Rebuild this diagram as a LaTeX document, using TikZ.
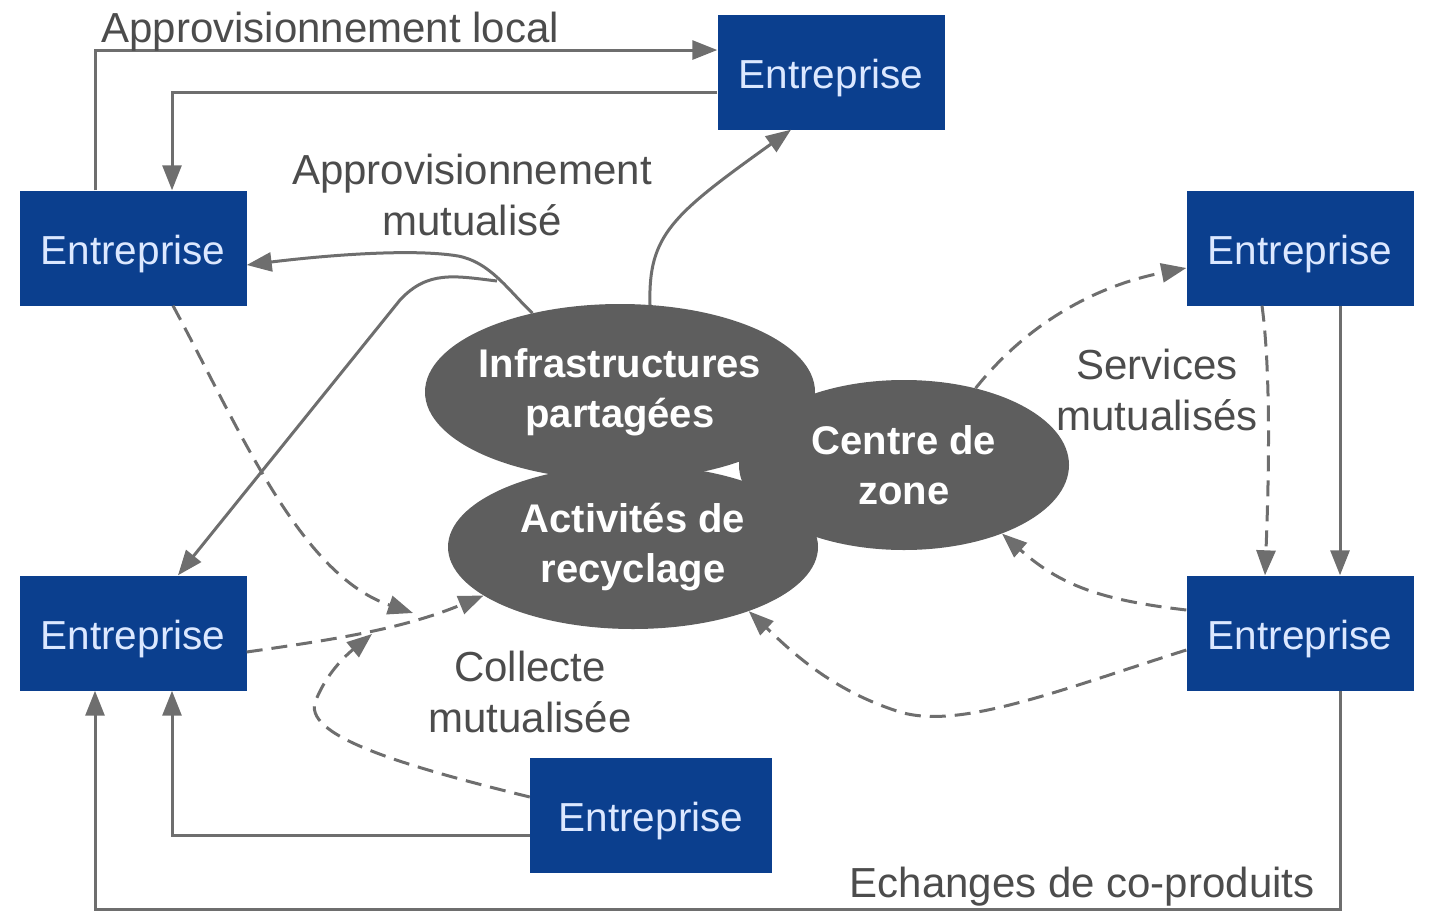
\documentclass[tikz,border=0pt]{standalone}
\usepackage{fontspec}
\setmainfont{Liberation Sans}
\usetikzlibrary{arrows.meta,shapes.geometric}
\definecolor{boxblue}{HTML}{0B3F8E}
\definecolor{boxtext}{HTML}{DCE8FF}
\definecolor{blobgrey}{HTML}{5E5E5E}
\definecolor{linegrey}{HTML}{6E6E6E}
\definecolor{labelgrey}{HTML}{4C4C4C}
\tikzset{
  firm/.style={fill=boxblue, text=boxtext, minimum width=227pt, minimum height=115pt,
    inner sep=0pt, text height=33pt, text depth=0pt, font=\fontsize{40.5}{48}\selectfont},
  pole/.style={ellipse, fill=blobgrey, text=white, inner ysep=0pt, inner xsep=-25pt, align=center,
    font=\bfseries\fontsize{40}{50}\selectfont},
  flow/.style={draw=linegrey, line width=3pt, -{Triangle[length=25pt,width=19pt]}},
  dflow/.style={flow, dash pattern=on 16pt off 9pt},
  lbl/.style={text=labelgrey, align=center, font=\fontsize{42}{51}\selectfont}
}
\begin{document}
\begin{tikzpicture}[x=1pt,y=-1pt]
    \useasboundingbox (0,0) rectangle (1429,913);
    % entreprises
    \node[firm] (top) at (831,72) {Entreprise};
    \node[firm] (lt) at (133,248) {Entreprise};
    \node[firm] (rt) at (1300,248) {Entreprise};
    \node[firm] (lb) at (133,633) {Entreprise};
    \node[firm] (rb) at (1300,633) {Entreprise};
    \node[firm, minimum width=242pt] (bot) at (651,815) {Entreprise};
    % pôles centraux
    \node[pole, minimum width=390pt, minimum height=176pt] (infra) at (620,392) {Infrastructures\\partagées};
    \node[pole, minimum width=370pt, minimum height=164pt] (activ) at (633,547) {Activités de\\recyclage};
    \node[pole, minimum width=330pt, minimum height=170pt] (zone) at (904,465) {Centre de\\zone};
    \coordinate (fork) at (497,281);
    \coordinate (collect1) at (413,613);
    \coordinate (collect2) at (372,634);
    % flux pleins
    \draw[flow] ([xshift=-38pt]lt.north) |- ([yshift=22pt]top.west);
    \draw[flow] ([yshift=-20pt]top.west) -| ([xshift=39pt]lt.north);
    \draw[flow] (infra.138) .. controls (508,290) and (490,262) .. (458,256) .. controls (410,248) and (320,256) .. ([yshift=-17pt]lt.east);
    \draw[flow] (fork) .. controls (455,276) and (428,270) .. (400,300) -- ([xshift=45pt]lb.north);
    \draw[flow] (infra.71) .. controls (648,235) and (672,215) .. ([xshift=-40pt]top.south);
    \draw[flow] ([xshift=40pt]rt.south) -- ([xshift=40pt]rb.north);
    \draw[flow] ([xshift=40pt]rb.south) -- ++(0,219) -| ([xshift=-38pt]lb.south);
    \draw[flow] ([yshift=-20pt]bot.west) -| ([xshift=39pt]lb.south);
    % flux en tirets
    \draw[dflow] ([xshift=40pt]lt.south) .. controls (240,430) and (300,575) .. (collect1);
    \draw[dflow] ([yshift=-19pt]lb.east) .. controls (330,640) and (400,630) .. (activ.198);
    \draw[dflow] ([yshift=18pt]bot.west) .. controls (400,765) and (300,735) .. (316,700) .. controls (328,670) and (350,652) .. (collect2);
    \draw[dflow] (zone.47) .. controls (1030,320) and (1100,285) .. ([yshift=-20pt]rt.west);
    \draw[dflow] ([xshift=-38pt]rt.south) .. controls (1272,380) and (1268,500) .. ([xshift=-35pt]rb.north);
    \draw[dflow] ([yshift=23pt]rb.west) .. controls (1100,600) and (1060,585) .. (zone.-35);
    \draw[dflow] ([yshift=-17pt]rb.west) .. controls (1060,690) and (960,730) .. (900,712) .. controls (830,690) and (790,650) .. (activ.-29);
    % libellés
    \node[lbl, anchor=base west] (loclbl) at (98,42) {Approvisionnement local};
    \node[lbl] (mutlbl) at (472,195) {Approvisionnement\\mutualisé};
    \node[lbl] (servlbl) at (1157,390) {Services\\mutualisés};
    \node[lbl] (collbl) at (530,692) {Collecte\\mutualisée};
    \node[lbl, anchor=base east] (exlbl) at (1318,897) {Echanges de co-produits};
\end{tikzpicture}
\end{document}
